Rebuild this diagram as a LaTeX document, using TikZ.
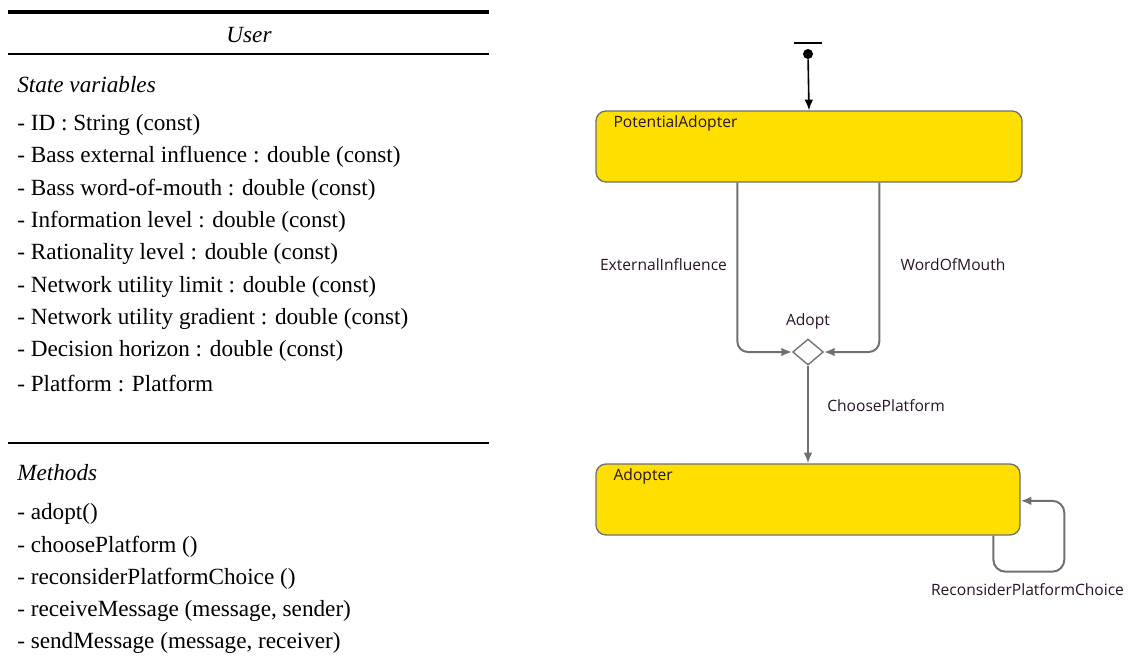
\documentclass[tikz,border=0pt]{standalone}
\usepackage{fontspec}
\setmainfont{Liberation Serif}
\newfontfamily\uifont{Open Sans}
\usetikzlibrary{arrows.meta,positioning,shapes.geometric}
\definecolor{stateyellow}{RGB}{255,223,0}
\definecolor{linegray}{RGB}{112,112,112}
\definecolor{labelink}{RGB}{40,20,40}

\begin{document}
\begin{tikzpicture}[
  x=0.75pt, y=-0.75pt,
  > = {Latex[length=8pt,width=6.5pt]},
  attr/.style = {anchor=west, inner sep=0pt, font=\fontsize{17.4}{20}\selectfont},
  head/.style = {attr, font=\fontsize{17.4}{20}\selectfont\itshape},
  state/.style = {draw=linegray, line width=1pt, fill=stateyellow, rounded corners=7.5pt,
                  minimum height=53.25pt, inner sep=0pt},
  statename/.style = {anchor=west, inner sep=0pt, text=labelink, font=\uifont\fontsize{11.7}{13}\selectfont},
  translabel/.style = {inner sep=0pt, text=labelink, font=\uifont\fontsize{11.7}{13}\selectfont},
  trans/.style = {draw=linegray, line width=1.5pt, ->}
  ]
	\useasboundingbox (0,0) rectangle (1132,671);

	% class table
	\draw[line width=2.3pt] (8,12) -- (489,12);
	\draw[line width=1.5pt] (8,54) -- (489,54);
	\draw[line width=1.5pt] (8,443) -- (489,443);

	\node[head, anchor=center] (cls) at (249,35) {User};
	\node[head] (sv) at (17,85) {State variables};
	\foreach \t [count=\i] in {- ID : String (const),
	    - Bass external influence : double (const),
	    - Bass word-of-mouth : double (const),
	    - Information level : double (const),
	    - Rationality level : double (const),
	    - Network utility limit : double (const),
	    - Network utility gradient : double (const),
	    - Decision horizon : double (const),
	    - Platform : Platform}
	  \node[attr] (sv\i) at (17,{125+(\i-1)*32.3}) {\t};

	\node[head] (mt) at (17,473) {Methods};
	\foreach \t [count=\i] in {- adopt(),
	    - choosePlatform (),
	    - reconsiderPlatformChoice (),
	    {- receiveMessage (message, sender)},
	    {- sendMessage (message, receiver)}}
	  \node[attr] (mt\i) at (17,{514+(\i-1)*32.3}) {\t};

	% statechart
	\node[fill, minimum width=21pt, minimum height=2.2pt, inner sep=0pt] (bar) at (808,43) {};
	\node[fill, circle, minimum size=7.5pt, inner sep=0pt] (init) at (808,54) {};

	\node[state, minimum width=319.5pt] (pa) at (809,146.5) {};
	\node[statename] at ([xshift=13.5pt,yshift=-9.5pt]pa.north west) {PotentialAdopter};

	\node[diamond, draw=linegray, line width=1pt, fill=white, inner sep=0pt,
	      minimum width=23pt, minimum height=19.5pt] (adopt) at (808,352) {};
	\node[translabel] (adoptlbl) at (808,321) {Adopt};

	\node[state, minimum width=318pt] (ad) at (808,499.5) {};
	\node[statename] at ([xshift=13.5pt,yshift=-9.5pt]ad.north west) {Adopter};

	\draw[->, line width=1.2pt] (init) -- (pa.north);
	\draw[trans, rounded corners=8pt] ([xshift=106.5pt]pa.south west) |- (adopt.west);
	\draw[trans, rounded corners=8pt] ([xshift=213pt]pa.south west) |- (adopt.east);
	\draw[trans] (adopt.south) -- (ad.north);
	\draw[trans, rounded corners=9pt] ([xshift=298.5pt]ad.south west) -- ++(0,36) -- ++(71,0) |- ([yshift=-1pt]ad.east);

	\node[translabel] (ei) at (663.5,265) {ExternalInfluence};
	\node[translabel] (wom) at (953,265) {WordOfMouth};
	\node[translabel, anchor=west] (cp) at (827,406) {ChoosePlatform};
	\node[translabel] (rpc) at (1027.5,590) {ReconsiderPlatformChoice};

\end{tikzpicture}
\end{document}
